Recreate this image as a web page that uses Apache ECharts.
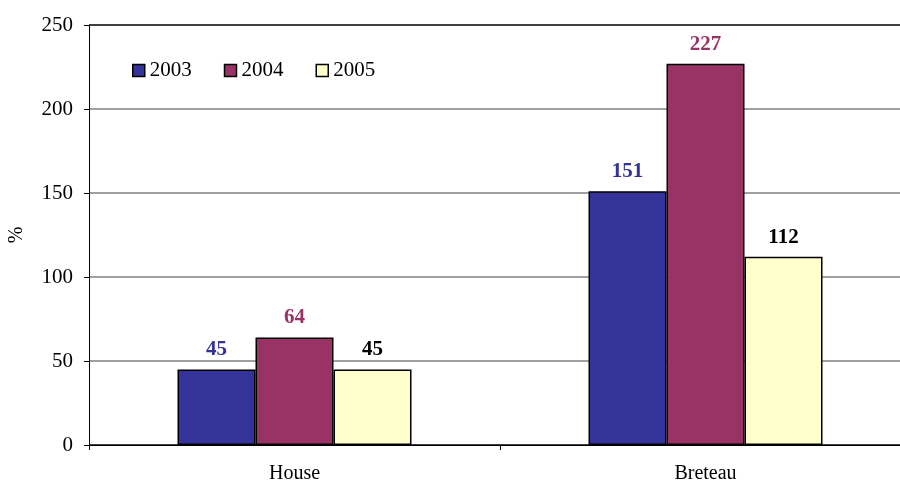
<!DOCTYPE html>
<html>
<head>
<meta charset="utf-8">
<script src="https://cdn.jsdelivr.net/npm/echarts@6/dist/echarts.min.js"></script>
<style>html,body{margin:0;padding:0;background:#fff}#c{width:900px;height:483px}</style>
</head>
<body>
<div id="c"></div>
<script>
const categories = ['House', 'Breteau'];
const seriesNames = ['2003', '2004', '2005'];
const values2003 = [45, 151];
const values2004 = [64, 227];
const values2005 = [45, 112];
const yTicks = [0, 50, 100, 150, 200, 250];

const colors = ['#333399', '#993366', '#FFFFCC'];
const labelColors = ['#333399', '#993366', '#000000'];
const font = 'Liberation Serif, Times New Roman, serif';

const chart = echarts.init(document.getElementById('c'), null, {renderer: 'canvas'});
const data = [values2003, values2004, values2005];
chart.setOption({
  animation: false,
  backgroundColor: '#ffffff',
  grid: {left: 89, width: 822, top: 25, height: 420, containLabel: false, outerBoundsMode: 'none'},
  legend: {
    left: 127, top: 55,
    itemWidth: 12, itemHeight: 12, itemGap: 32,
    icon: 'rect',
    textStyle: {fontFamily: font, fontSize: 21, color: '#000'},
    data: seriesNames.map((n, i) => ({name: n, itemStyle: {color: colors[i], borderColor: '#000', borderWidth: 1.5}}))
  },
  xAxis: {
    type: 'category',
    data: categories,
    axisLine: {lineStyle: {color: '#000', width: 1}},
    axisTick: {show: true, length: 5, lineStyle: {color: '#000'}},
    axisLabel: {fontFamily: font, fontSize: 20, color: '#000', margin: 19}
  },
  yAxis: {
    type: 'value',
    min: yTicks[0], max: yTicks[yTicks.length - 1], interval: 50,
    name: '%', nameLocation: 'middle', nameGap: 62, nameRotate: 90,
    nameTextStyle: {fontFamily: font, fontSize: 20, color: '#000'},
    axisLine: {show: true, lineStyle: {color: '#000', width: 1}},
    axisTick: {show: true, length: 5, lineStyle: {color: '#000'}},
    axisLabel: {fontFamily: font, fontSize: 21, color: '#000', margin: 16},
    splitLine: {show: true, lineStyle: {color: ['#000', '#808080', '#808080', '#808080', '#808080', '#000'], width: 1.5}}
  },
  series: seriesNames.map((n, i) => ({
    name: n,
    type: 'bar',
    data: data[i],
    barWidth: 78,
    barGap: '0%',
    itemStyle: {color: colors[i], borderColor: '#000', borderWidth: 1.5},
    label: {
      show: true, position: 'top', distance: 9,
      fontFamily: font, fontSize: 21, fontWeight: 'bold', color: labelColors[i]
    }
  }))
});
</script>
</body>
</html>
